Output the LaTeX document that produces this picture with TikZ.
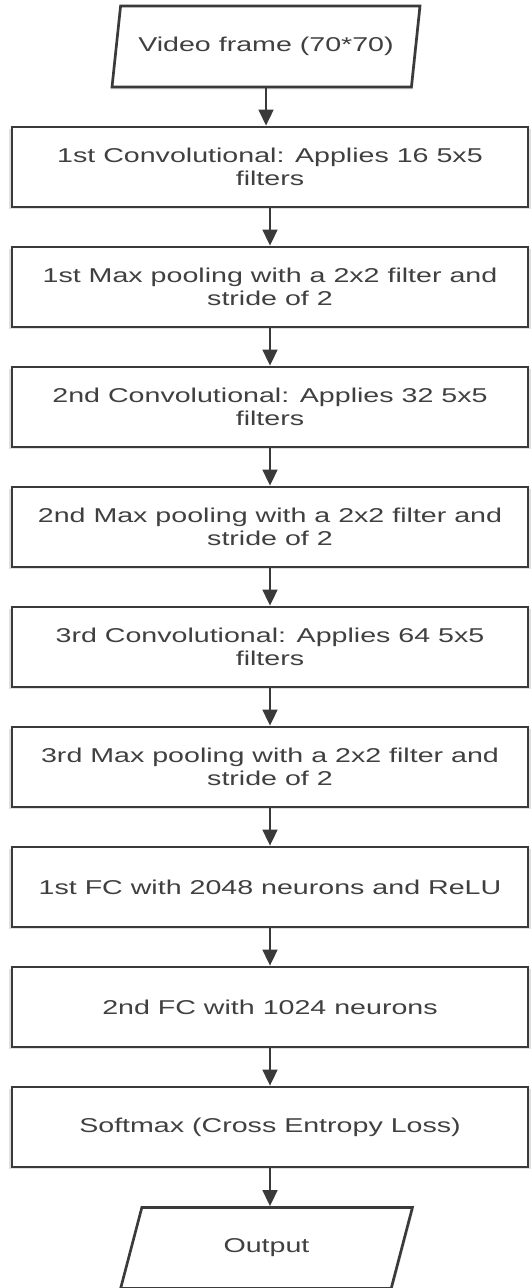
\documentclass[tikz,border=0pt]{standalone}
\usepackage{fontspec}
\usetikzlibrary{arrows.meta,shapes.geometric,shadows}
\newfontfamily\flowfont[FakeStretch=1.43]{Liberation Sans}
\definecolor{linegray}{HTML}{3A3A3A}
\definecolor{textgray}{HTML}{404040}
\tikzset{
    boxshadow/.style={drop shadow={shadow xshift=0pt, shadow yshift=-1.5pt,
        shadow scale=1.01, fill=black!40, opacity=0.3}},
    layer/.style={draw=linegray, line width=2pt, fill=white, boxshadow,
        minimum width=387pt, minimum height=60pt, inner sep=0pt,
        align=center, text=textgray,
        font=\flowfont\fontsize{15}{17.5}\selectfont},
    io/.style={trapezium, trapezium left angle=68, trapezium right angle=112,
        trapezium stretches=true, layer, minimum height=60.75pt},
    flow/.style={draw=linegray, line width=1.9pt,
        -{Triangle[width=11pt, length=12pt]}}
}
\begin{document}
\begin{tikzpicture}[x=0.75pt, y=-0.75pt]
        \fill[white] (0,0) rectangle (531,1288);
        \useasboundingbox (0,0) rectangle (531,1288);
        \node[io, minimum width=231pt] (input) at (266,46.5) {Video frame (70*70)};
        \foreach \layertext [count=\i] in {%
            {1st Convolutional: Applies 16 5x5\\filters},
            {1st Max pooling with a 2x2 filter and\\stride of 2},
            {2nd Convolutional: Applies 32 5x5\\filters},
            {2nd Max pooling with a 2x2 filter and\\stride of 2},
            {3rd Convolutional: Applies 64 5x5\\filters},
            {3rd Max pooling with a 2x2 filter and\\stride of 2},
            {1st FC with 2048 neurons and ReLU},
            {2nd FC with 1024 neurons},
            {Softmax (Cross Entropy Loss)}}
            \node[layer] (layer-\i) at (270,{167+120*(\i-1)}) {\layertext};
        \node[io, minimum width=220pt] (output) at (266.5,1248) {Output};
        \draw[flow] (input.south) -- (input.south |- layer-1.north);
        \foreach \i [evaluate=\i as \j using int(\i+1)] in {1,...,8}
            \draw[flow] (layer-\i) -- (layer-\j);
        \draw[flow] (layer-9.south) -- (layer-9.south |- output.north);
    \end{tikzpicture}
\end{document}
